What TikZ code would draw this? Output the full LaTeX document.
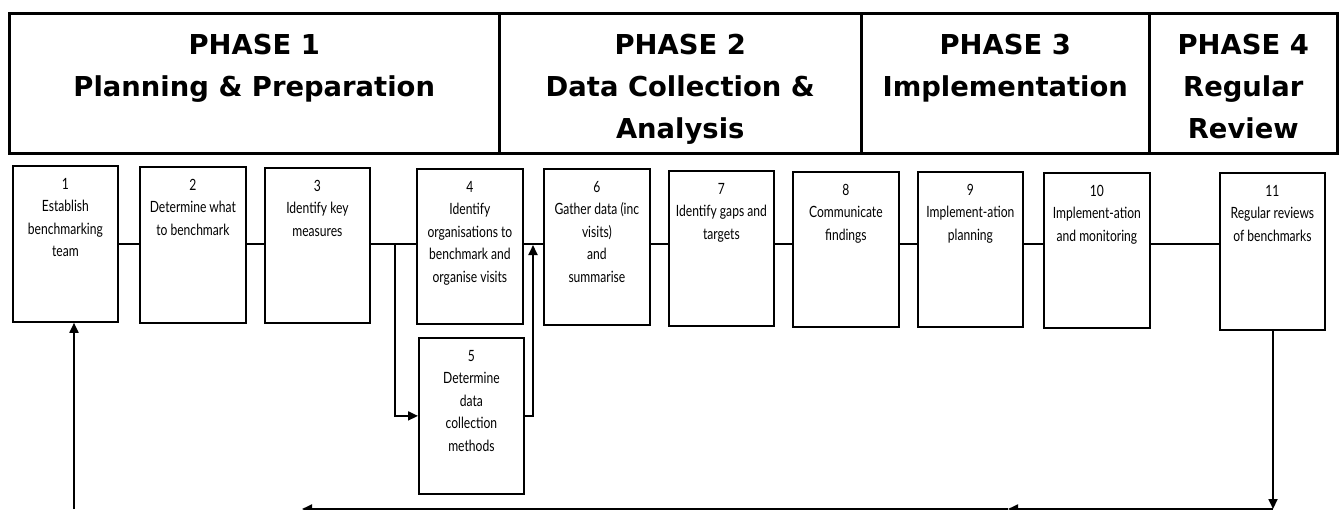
\documentclass[tikz,border=0pt]{standalone}
\usepackage{fontspec}
\usetikzlibrary{arrows.meta}
\newfontfamily\boxfont[FakeStretch=0.78]{Lato}
\newfontfamily\hdrfont{DejaVu Sans}
\tikzset{
  hdr/.style={draw, line width=2.5pt, inner sep=0pt, anchor=north west,
    font=\hdrfont\bfseries\fontsize{27.4}{42}\selectfont},
  fbx/.style={draw, line width=1.8pt, inner sep=0pt, anchor=north west,
    font=\boxfont\fontsize{15.5}{22.5}\selectfont},
  conn/.style={line width=1.8pt},
  arr/.style={line width=1.8pt, -{Triangle[length=10pt,width=9pt]}},
}
\newcommand\hcell[6]{\node[hdr] (#1) at (#2,#3) {\parbox[c][#5pt][t]{#4pt}{\centering\vspace*{21pt}#6}};}
\newcommand\flowbx[6]{\node[fbx] (#1) at (#2,#3) {\parbox[c][#5pt][t]{#4pt}{\centering\vspace*{12pt}#6}};}
\begin{document}
\begin{tikzpicture}[x=1pt,y=-1pt]
\useasboundingbox (0,0) rectangle (1341,509);
% header
\hcell{h1}{8}{12}{490}{140}{PHASE 1\\Planning \& Preparation}
\hcell{h2}{498}{12}{362}{140}{PHASE 2\\Data Collection \&\\Analysis}
\hcell{h3}{860}{12}{288}{140}{PHASE 3\\Implementation}
\hcell{h4}{1148}{12}{188}{140}{PHASE 4\\Regular\\Review}
% boxes
\flowbx{b1}{12}{165}{105}{156}{1\\Establish\\benchmarking\\team}
\flowbx{b2}{139}{166}{106}{156}{2\\Determine what\\to benchmark}
\flowbx{b3}{264}{167}{105}{155}{3\\Identify key\\measures}
\flowbx{b4}{416}{168}{106}{155}{4\\Identify\\organisations to\\benchmark and\\organise visits}
\flowbx{b5}{418}{337}{105}{156}{5\\Determine\\data\\collection\\methods}
\flowbx{b6}{543}{168}{106}{156}{6\\Gather data (inc\\visits)\\and\\summarise}
\flowbx{b7}{668}{170}{105}{155}{7\\Identify gaps and\\targets}
\flowbx{b8}{792}{171}{106}{155}{8\\Communicate\\findings}
\flowbx{b9}{917}{171}{105}{155}{9\\Implement-ation\\planning}
\flowbx{b10}{1043}{172}{106}{155}{10\\Implement-ation\\and monitoring}
\flowbx{b11}{1219}{172}{105}{157}{11\\Regular reviews\\of benchmarks}
% main line
\coordinate (m) at (0,244);
\draw[conn] (b1.east|-m) -- (b2.west|-m);
\draw[conn] (b2.east|-m) -- (b3.west|-m);
\draw[conn] (b3.east|-m) -- (b4.west|-m);
\draw[conn] (b4.east|-m) -- (b6.west|-m);
\draw[conn] (b6.east|-m) -- (b7.west|-m);
\draw[conn] (b7.east|-m) -- (b8.west|-m);
\draw[conn] (b8.east|-m) -- (b9.west|-m);
\draw[conn] (b9.east|-m) -- (b10.west|-m);
\draw[conn] (b10.east|-m) -- (b11.west|-m);
% branch through box 5
\coordinate (br) at (395,244);
\coordinate (rj) at (533,245);
\draw[arr] (br) |- (b5.west);
\draw[arr] (b5.east) -| (rj);
% return loop
\coordinate (rb) at (1273,509);
\coordinate (mid) at (1008,509);
\coordinate (le) at (302,509);
\coordinate (lb) at (74,509);
\draw[arr] (b11.south-|rb) -- (rb);
\draw[arr] (rb) -- (mid);
\draw[arr] (mid) -- (le);
\draw[arr] (lb) -- (lb|-b1.south);
\end{tikzpicture}
\end{document}
